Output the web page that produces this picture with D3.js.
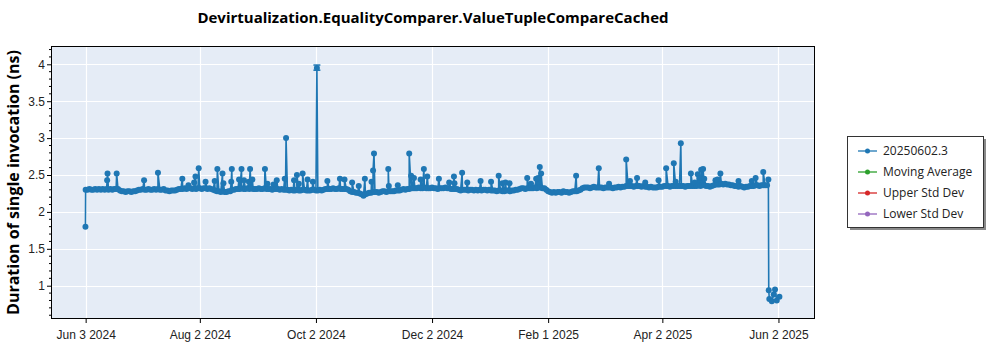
<!DOCTYPE html>
<html>
<head>
<meta charset="utf-8">
<script src="https://cdn.jsdelivr.net/npm/d3@7"></script>
<style>
  html, body { margin: 0; padding: 0; background: #ffffff; }
  svg { display: block; font-family: "Open Sans", "Noto Sans", sans-serif; }
</style>
</head>
<body>
<svg id="chart" width="1000" height="350"></svg>
<script>
// ---------------- data ----------------
const chartTitle = "Devirtualization.EqualityComparer.ValueTupleCompareCached";
const yAxisLabel = "Duration of single invocation (ns)";
const startDate = "2024-06-03";   // day 0
// regular daily samples, day 0 .. 358
const dailyValues = [
  2.30, 2.30, 2.31, 2.30, 2.30, 2.31, 2.30, 2.31, 2.30, 2.31,
  2.30, 2.31, 2.30, 2.31, 2.30, 2.31, 2.31, 2.31, 2.29, 2.28,
  2.28, 2.27, 2.28, 2.28, 2.27, 2.28, 2.28, 2.29, 2.30, 2.30,
  2.31, 2.30, 2.30, 2.31, 2.30, 2.30, 2.31, 2.30, 2.31, 2.30,
  2.30, 2.31, 2.29, 2.29, 2.28, 2.29, 2.29, 2.29, 2.30, 2.31,
  2.31, 2.31, 2.32, 2.31, 2.32, 2.32, 2.31, 2.32, 2.31, 2.32,
  2.32, 2.31, 2.32, 2.32, 2.31, 2.32, 2.31, 2.30, 2.29, 2.28,
  2.28, 2.27, 2.28, 2.27, 2.27, 2.28, 2.28, 2.30, 2.30, 2.31,
  2.31, 2.31, 2.32, 2.31, 2.31, 2.32, 2.31, 2.32, 2.31, 2.31,
  2.31, 2.32, 2.31, 2.31, 2.32, 2.31, 2.31, 2.31, 2.30, 2.31,
  2.31, 2.31, 2.30, 2.31, 2.30, 2.30, 2.30, 2.29, 2.30, 2.29,
  2.29, 2.30, 2.29, 2.29, 2.30, 2.30, 2.29, 2.29, 2.29, 2.30,
  2.30, 2.29, 2.29, 2.30, 2.29, 2.30, 2.31, 2.31, 2.31, 2.31,
  2.32, 2.31, 2.31, 2.32, 2.31, 2.31, 2.31, 2.31, 2.30, 2.28,
  2.27, 2.27, 2.26, 2.26, 2.25, 2.24, 2.22, 2.24, 2.25, 2.26,
  2.26, 2.27, 2.27, 2.27, 2.26, 2.27, 2.28, 2.28, 2.27, 2.28,
  2.28, 2.28, 2.28, 2.29, 2.29, 2.29, 2.30, 2.31, 2.30, 2.31,
  2.31, 2.32, 2.32, 2.32, 2.32, 2.33, 2.32, 2.32, 2.33, 2.32,
  2.32, 2.32, 2.33, 2.32, 2.32, 2.31, 2.32, 2.32, 2.32, 2.33,
  2.32, 2.32, 2.31, 2.31, 2.31, 2.31, 2.30, 2.29, 2.30, 2.30,
  2.30, 2.29, 2.30, 2.30, 2.29, 2.30, 2.29, 2.30, 2.29, 2.30,
  2.30, 2.29, 2.30, 2.29, 2.29, 2.29, 2.28, 2.29, 2.29, 2.28,
  2.28, 2.29, 2.29, 2.28, 2.29, 2.29, 2.30, 2.30, 2.31, 2.32,
  2.32, 2.31, 2.32, 2.32, 2.32, 2.32, 2.33, 2.32, 2.33, 2.33,
  2.32, 2.32, 2.30, 2.28, 2.27, 2.26, 2.27, 2.26, 2.27, 2.27,
  2.26, 2.28, 2.27, 2.27, 2.26, 2.27, 2.28, 2.28, 2.28, 2.29,
  2.30, 2.32, 2.33, 2.33, 2.33, 2.32, 2.33, 2.34, 2.33, 2.33,
  2.33, 2.33, 2.32, 2.33, 2.33, 2.33, 2.33, 2.32, 2.33, 2.33,
  2.34, 2.33, 2.34, 2.34, 2.35, 2.35, 2.35, 2.35, 2.34, 2.35,
  2.35, 2.35, 2.34, 2.35, 2.34, 2.34, 2.33, 2.34, 2.33, 2.33,
  2.33, 2.34, 2.34, 2.34, 2.35, 2.35, 2.35, 2.34, 2.35, 2.35,
  2.35, 2.35, 2.35, 2.35, 2.35, 2.34, 2.35, 2.35, 2.35, 2.35,
  2.35, 2.35, 2.36, 2.35, 2.36, 2.36, 2.35, 2.35, 2.34, 2.35,
  2.36, 2.37, 2.37, 2.37, 2.38, 2.37, 2.38, 2.37, 2.37, 2.36,
  2.36, 2.35, 2.35, 2.34, 2.35, 2.34, 2.33, 2.34, 2.34, 2.35,
  2.35, 2.35, 2.36, 2.36, 2.35, 2.36, 2.36, 2.36, 2.36
];
// extra (intra-day) samples: spikes and the final drop, as [day offset, value]
const extraSamples = [
  [-0.1, 1.80],
  [11.3, 2.43], [11.5, 2.52], [16.3, 2.52], [30.7, 2.43], [38.0, 2.53], [50.8, 2.45],
  [54.0, 2.36], [57.0, 2.40], [57.7, 2.48], [59.4, 2.59], [63.0, 2.41], [67.8, 2.42],
  [69.2, 2.58], [71.9, 2.52], [72.4, 2.39], [76.5, 2.41], [76.8, 2.58], [80.6, 2.44],
  [81.9, 2.58], [83.2, 2.43], [85.8, 2.41], [86.4, 2.58], [87.6, 2.44], [94.2, 2.58],
  [95.5, 2.38], [98.7, 2.37], [100.4, 2.43], [104.6, 2.45], [105.3, 3.00], [109.5, 2.43],
  [111.0, 2.50], [112.0, 2.38], [114.0, 2.52], [116.6, 2.44], [119.4, 2.41], [121.5, 3.95],
  [127.0, 2.42], [133.6, 2.45], [136.0, 2.44], [140.0, 2.40], [143.5, 2.35], [146.7, 2.45],
  [150.2, 2.41], [151.0, 2.56], [151.5, 2.79], [159.0, 2.58], [159.3, 2.35], [164.0, 2.36],
  [170.0, 2.79], [171.0, 2.49], [172.5, 2.46], [176.0, 2.44], [177.7, 2.58], [179.5, 2.48],
  [185.6, 2.45], [191.0, 2.40], [193.5, 2.48], [193.8, 2.39], [197.8, 2.53], [200.5, 2.40],
  [207.5, 2.42], [213.0, 2.41], [217.0, 2.49], [219.0, 2.39], [220.6, 2.40], [222.7, 2.39],
  [232.0, 2.46], [234.0, 2.38], [236.7, 2.45], [237.8, 2.46], [238.6, 2.61], [239.3, 2.52],
  [257.7, 2.49], [269.6, 2.59], [275.0, 2.38], [284.0, 2.71], [286.0, 2.42], [289.7, 2.46],
  [294.0, 2.40], [301.0, 2.43], [305.0, 2.59], [309.0, 2.66], [310.0, 2.41], [312.7, 2.93],
  [318.0, 2.52], [320.0, 2.40], [321.6, 2.51], [322.5, 2.46], [323.4, 2.57], [324.4, 2.58],
  [325.0, 2.45], [330.9, 2.43], [332.0, 2.44], [333.5, 2.52], [343.0, 2.42], [350.0, 2.42],
  [352.0, 2.46], [356.0, 2.54], [358.7, 2.44],
  [358.9, 0.94], [359.2, 0.82], [360.5, 0.79], [361.5, 0.88], [362.2, 0.95], [363.1, 0.80], [364.5, 0.85]
];
// error bar (the only visible one): [day offset, low, high]
const errorBars = [[121.5, 3.92, 3.99]];
const xTickDates = ["2024-06-03", "2024-08-02", "2024-10-02", "2024-12-02", "2025-02-01", "2025-04-02", "2025-06-02"];
const xTickLabels = ["Jun 3 2024", "Aug 2 2024", "Oct 2 2024", "Dec 2 2024", "Feb 1 2025", "Apr 2 2025", "Jun 2 2025"];
const yTicks = [1, 1.5, 2, 2.5, 3, 3.5, 4];
const yTickLabels = ["1", "1.5", "2", "2.5", "3", "3.5", "4"];
const legendNames = ["20250602.3", "Moving Average", "Upper Std Dev", "Lower Std Dev"];
const legendColors = ["#1f77b4", "#2ca02c", "#d62728", "#9467bd"];

// ---------------- layout ----------------
const svg = d3.select("#chart");
const plot = { left: 51, right: 815, top: 46, bottom: 319 };
const parse = d3.utcParse("%Y-%m-%d");
const start = parse(startDate);
const DAY = 86400000;
const atDay = d => new Date(start.getTime() + d * DAY);
const points = dailyValues.map((v, i) => ({ day: i, value: v }))
  .concat(extraSamples.map(([d, v]) => ({ day: d, value: v })))
  .sort((a, b) => a.day - b.day)
  .map(p => ({ date: atDay(p.day), value: p.value }));

const x = d3.scaleUtc()
  .domain([atDay(-18.2), atDay(383.2)])
  .range([plot.left, plot.right]);
const y = d3.scaleLinear()
  .domain([0.549, 4.248])
  .range([plot.bottom, plot.top]);

const blue = legendColors[0];

// background
svg.append("rect")
  .attr("x", plot.left).attr("y", plot.top)
  .attr("width", plot.right - plot.left).attr("height", plot.bottom - plot.top)
  .attr("fill", "#e5ecf6");

svg.append("clipPath").attr("id", "clip")
  .append("rect")
  .attr("x", plot.left).attr("y", plot.top)
  .attr("width", plot.right - plot.left).attr("height", plot.bottom - plot.top);

// gridlines
const tickDates = xTickDates.map(parse);
svg.append("g").selectAll("line").data(tickDates).join("line")
  .attr("x1", d => Math.round(x(d)) + 0.5).attr("x2", d => Math.round(x(d)) + 0.5)
  .attr("y1", plot.top).attr("y2", plot.bottom)
  .attr("stroke", "#ffffff").attr("stroke-width", 1.2);
svg.append("g").selectAll("line").data(yTicks).join("line")
  .attr("y1", d => Math.round(y(d)) + 0.5).attr("y2", d => Math.round(y(d)) + 0.5)
  .attr("x1", plot.left).attr("x2", plot.right)
  .attr("stroke", "#ffffff").attr("stroke-width", 1.2);

// series
const g = svg.append("g").attr("clip-path", "url(#clip)");
const line = d3.line().x(d => x(d.date)).y(d => y(d.value));
g.append("path").datum(points)
  .attr("d", line)
  .attr("fill", "none")
  .attr("stroke", blue)
  .attr("stroke-width", 1.6)
  .attr("stroke-linejoin", "round");

// error bars
errorBars.forEach(([d, lo, hi]) => {
  const cx = x(atDay(d));
  g.append("line").attr("x1", cx).attr("x2", cx).attr("y1", y(lo)).attr("y2", y(hi))
    .attr("stroke", blue).attr("stroke-width", 1.5);
  [lo, hi].forEach(v => g.append("line")
    .attr("x1", cx - 3.5).attr("x2", cx + 3.5).attr("y1", y(v)).attr("y2", y(v))
    .attr("stroke", blue).attr("stroke-width", 1.5));
});

g.selectAll("circle").data(points).join("circle")
  .attr("cx", d => x(d.date)).attr("cy", d => y(d.value))
  .attr("r", 3).attr("fill", blue);

// axes
const xAxis = d3.axisBottom(x)
  .tickValues(tickDates)
  .tickFormat((d, i) => xTickLabels[i])
  .tickSize(4).tickSizeOuter(0);
const gx = svg.append("g").attr("transform", `translate(0,${plot.bottom})`).call(xAxis);
gx.select(".domain").remove();
gx.selectAll("text").attr("font-size", 12).attr("fill", "#222").attr("dy", "1.05em");
gx.selectAll("line").attr("stroke", "#000");

const yAxis = d3.axisLeft(y)
  .tickValues(yTicks)
  .tickFormat((d, i) => yTickLabels[i])
  .tickSize(4).tickSizeOuter(0);
const gy = svg.append("g").attr("transform", `translate(${plot.left},0)`).call(yAxis);
gy.select(".domain").remove();
gy.selectAll("text").attr("font-size", 12).attr("fill", "#222").attr("x", -6);
gy.selectAll("line").attr("stroke", "#000");

// minor y ticks
const minorY = d3.range(6, 43).map(k => k / 10).filter(v => Math.abs(v * 2 - Math.round(v * 2)) > 1e-6);
svg.append("g").selectAll("line").data(minorY).join("line")
  .attr("x1", plot.left - 2).attr("x2", plot.left)
  .attr("y1", d => y(d)).attr("y2", d => y(d))
  .attr("stroke", "#000");

// plot border
svg.append("rect")
  .attr("x", plot.left + 0.5).attr("y", plot.top + 0.5)
  .attr("width", plot.right - plot.left - 1).attr("height", plot.bottom - plot.top - 1)
  .attr("fill", "none").attr("stroke", "#000").attr("stroke-width", 1);

// title
svg.append("text")
  .attr("x", (plot.left + plot.right) / 2).attr("y", 23)
  .attr("text-anchor", "middle")
  .attr("font-size", 15).attr("font-weight", "bold").attr("fill", "#000")
  .text(chartTitle);

// y label
svg.append("text")
  .attr("transform", `translate(19,${(plot.top + plot.bottom) / 2}) rotate(-90)`)
  .attr("text-anchor", "middle")
  .attr("font-size", 16).attr("font-weight", "bold").attr("fill", "#000")
  .text(yAxisLabel);

// legend
const lg = svg.append("g");
const lx = 847, ly = 136, lw = 136, lh = 91;
lg.append("rect").attr("x", lx + 3).attr("y", ly + 3).attr("width", lw).attr("height", lh).attr("fill", "#8a8a8a");
lg.append("rect").attr("x", lx + 0.5).attr("y", ly + 0.5).attr("width", lw).attr("height", lh)
  .attr("fill", "#ffffff").attr("stroke", "#333").attr("stroke-width", 1);
legendNames.forEach((name, i) => {
  const yy = ly + 15 + i * 21;
  lg.append("line").attr("x1", lx + 11).attr("x2", lx + 30).attr("y1", yy).attr("y2", yy)
    .attr("stroke", legendColors[i]).attr("stroke-width", 1.3);
  lg.append("circle").attr("cx", lx + 20.5).attr("cy", yy).attr("r", 2.5).attr("fill", legendColors[i]);
  lg.append("text").attr("x", lx + 36).attr("y", yy).attr("dy", "0.35em")
    .attr("font-size", 12).attr("fill", "#222").text(name);
});
</script>
</body>
</html>
